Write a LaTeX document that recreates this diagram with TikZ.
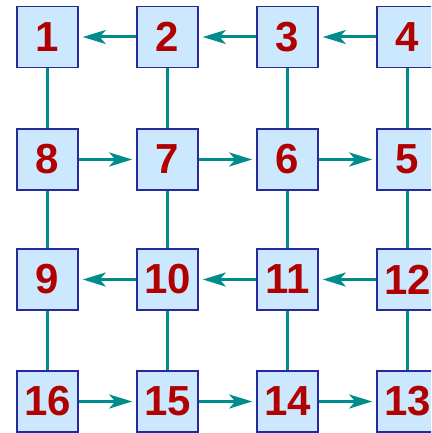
\documentclass[tikz,border=0pt]{standalone}
\usepackage{fontspec}
\setmainfont{Liberation Sans}
\usetikzlibrary{arrows.meta}
\definecolor{boxfill}{HTML}{CCE8FF}
\definecolor{boxdraw}{HTML}{2828A0}
\definecolor{numred}{HTML}{B00000}
\definecolor{teal2}{HTML}{008C8C}
\begin{document}
\begin{tikzpicture}[x=1pt,y=-1pt,
  cell/.style={draw=boxdraw,fill=boxfill,line width=1.5pt,minimum width=61pt,minimum height=61pt,inner sep=0pt,
    font=\fontsize{42}{42}\selectfont\bfseries,text=numred},
  link/.style={draw=teal2,line width=3pt},
  flow/.style={link,-{Stealth[length=23pt,width=14pt,inset=6pt]},shorten >=4pt}]
\useasboundingbox (0,0) rectangle (431,433);
\clip (0,0) rectangle (431,433);
\node[cell] (n1) at (47.5,37) {1};
\node[cell] (n2) at (167.5,37) {2};
\node[cell] (n3) at (287.5,37) {3};
\node[cell] (n4) at (407.5,37) {4};
\node[cell] (n8) at (47.5,159.5) {8};
\node[cell] (n7) at (167.5,159.5) {7};
\node[cell] (n6) at (287.5,159.5) {6};
\node[cell] (n5) at (407.5,159.5) {5};
\node[cell] (n9) at (47.5,279.5) {9};
\node[cell] (n10) at (167.5,279.5) {10};
\node[cell] (n11) at (287.5,279.5) {11};
\node[cell] (n12) at (407.5,279.5) {12};
\node[cell] (n16) at (47.5,401.5) {16};
\node[cell] (n15) at (167.5,401.5) {15};
\node[cell] (n14) at (287.5,401.5) {14};
\node[cell] (n13) at (407.5,401.5) {13};
% verticals
\draw[link] (n1) -- (n8); \draw[link] (n8) -- (n9); \draw[link] (n9) -- (n16);
\draw[link] (n2) -- (n7); \draw[link] (n7) -- (n10); \draw[link] (n10) -- (n15);
\draw[link] (n3) -- (n6); \draw[link] (n6) -- (n11); \draw[link] (n11) -- (n14);
\draw[link] (n4) -- (n5); \draw[link] (n5) -- (n12); \draw[link] (n12) -- (n13);
% horizontals
\draw[flow] (n2) -- (n1); \draw[flow] (n3) -- (n2); \draw[flow] (n4) -- (n3);
\draw[flow] (n8) -- (n7); \draw[flow] (n7) -- (n6); \draw[flow] (n6) -- (n5);
\draw[flow] (n10) -- (n9); \draw[flow] (n11) -- (n10); \draw[flow] (n12) -- (n11);
\draw[flow] (n16) -- (n15); \draw[flow] (n15) -- (n14); \draw[flow] (n14) -- (n13);
\end{tikzpicture}
\end{document}
